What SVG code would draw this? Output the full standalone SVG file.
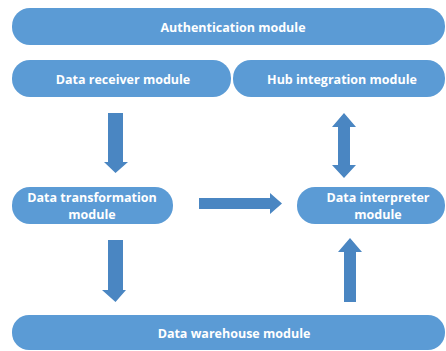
<svg xmlns="http://www.w3.org/2000/svg" width="446" height="351" viewBox="0 0 446 351">
<style>
.box{fill:#5B9BD5;}
.lbl{fill:#ffffff;font-family:"Open Sans","Liberation Sans",sans-serif;font-weight:bold;font-size:12.5px;text-anchor:middle;dominant-baseline:central;}
.arr{fill:#4A86C2;}
</style>
<rect width="446" height="351" fill="#ffffff"/>
<g id="auth"><rect class="box" x="12" y="8" width="433" height="37" rx="18"/><text class="lbl" x="233" y="27">Authentication module</text></g>
<g id="receiver"><rect class="box" x="12" y="60" width="219" height="37" rx="18"/><text class="lbl" x="123" y="79">Data receiver module</text></g>
<g id="hub"><rect class="box" x="233" y="60" width="212" height="37" rx="18"/><text class="lbl" x="342" y="79">Hub integration module</text></g>
<g id="transform"><rect class="box" x="12" y="187" width="161" height="37" rx="18"/><text class="lbl" x="92" y="197">Data transformation</text><text class="lbl" x="92" y="214">module</text></g>
<g id="interpreter"><rect class="box" x="297" y="187" width="148" height="37" rx="18"/><text class="lbl" x="378" y="197">Data interpreter</text><text class="lbl" x="378" y="214">module</text></g>
<g id="warehouse"><rect class="box" x="12" y="315" width="433" height="35" rx="17"/><text class="lbl" x="234" y="333">Data warehouse module</text></g>
<g id="connectors">
<polygon class="arr" points="108,113 123,113 123,162 128,162 115.5,173 104,162 108,162"/>
<polygon class="arr" points="344,113 356,127 350,127 350,165 356,165 344,178 332,165 338,165 338,127 332,127"/>
<polygon class="arr" points="199,198 270,198 270,193 282,203.5 270,214 270,209 199,209"/>
<polygon class="arr" points="108,240 123,240 123,290 126,290 115.5,302 102,290 108,290"/>
<polygon class="arr" points="350,238 362,252 356,252 356,302 344,302 344,252 338,252"/>
</g>
</svg>
